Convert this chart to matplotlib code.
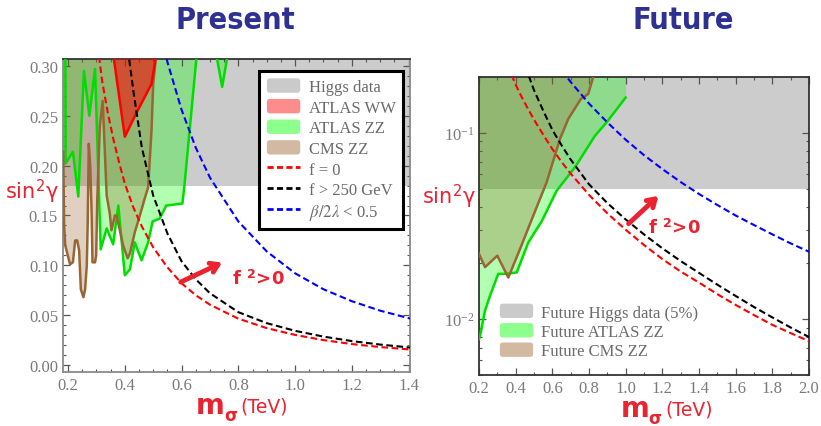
import matplotlib
matplotlib.use('Agg')
from matplotlib import pyplot as plt
from matplotlib.patches import FancyBboxPatch, Patch
from matplotlib.lines import Line2D
from matplotlib.legend_handler import HandlerPatch
from matplotlib.ticker import MultipleLocator, FixedLocator, FixedFormatter, LogLocator, NullFormatter

plt.rcParams['mathtext.fontset'] = 'stix'

# theory curves: sin^2(gamma) against m_sigma (TeV)
m_curve = [0.30, 0.32, 0.34, 0.36, 0.38, 0.40, 0.43, 0.46, 0.50, 0.55, 0.60, 0.65, 0.70,
           0.80, 0.90, 1.00, 1.10, 1.20, 1.30, 1.40, 1.50, 1.60, 1.70, 1.80, 1.90, 2.00]
f_zero = [0.330, 0.285, 0.253, 0.226, 0.203, 0.182, 0.158, 0.139, 0.118, 0.098, 0.082, 0.070, 0.0605,
          0.0465, 0.0370, 0.0302, 0.0250, 0.0210, 0.0180, 0.0157, 0.0136, 0.0119, 0.0105, 0.0093, 0.0084, 0.0076]
f_250 = [0.650, 0.550, 0.470, 0.420, 0.380, 0.340, 0.275, 0.218, 0.170, 0.132, 0.104, 0.086, 0.072,
         0.053, 0.042, 0.0343, 0.0285, 0.0240, 0.0205, 0.0177, 0.0153, 0.0133, 0.0116, 0.0102, 0.0090, 0.0080]
m_beta = [0.50, 0.55, 0.60, 0.65, 0.70, 0.80, 0.90, 1.00, 1.10, 1.20, 1.30, 1.40, 1.50, 1.60, 1.70, 1.80, 1.90, 2.00]
beta_half = [0.368, 0.304, 0.256, 0.218, 0.188, 0.144, 0.114, 0.092, 0.076, 0.064, 0.0545, 0.047,
             0.041, 0.036, 0.032, 0.0285, 0.0255, 0.023]

# present exclusions, lower edge of each region (0.40 = off the top of the plot)
m_atlas_zz = [0.190, 0.191, 0.217, 0.236, 0.256, 0.275, 0.295, 0.315, 0.336, 0.359, 0.377, 0.400, 0.418,
              0.435, 0.459, 0.482, 0.498, 0.523, 0.546, 0.603, 0.610, 0.652, 0.656, 0.720, 0.722, 0.743, 0.763, 0.765]
atlas_zz = [0.40, 0.202, 0.214, 0.169, 0.295, 0.250, 0.297, 0.116, 0.137, 0.121, 0.160, 0.090, 0.096,
            0.123, 0.105, 0.123, 0.144, 0.147, 0.160, 0.162, 0.180, 0.307, 0.40, 0.40, 0.312, 0.279, 0.312, 0.40]
m_cms_zz = [0.183, 0.186, 0.190, 0.207, 0.217, 0.225, 0.232, 0.239, 0.245, 0.254, 0.260, 0.266, 0.269,
            0.273, 0.278, 0.283, 0.286, 0.295, 0.299, 0.303, 0.312, 0.322, 0.336, 0.347, 0.353, 0.365, 0.371,
            0.394, 0.410, 0.418, 0.435, 0.453, 0.470, 0.482, 0.494, 0.500, 0.511, 0.515]
cms_zz = [0.214, 0.140, 0.120, 0.101, 0.103, 0.125, 0.125, 0.115, 0.076, 0.068, 0.076, 0.100, 0.140,
          0.222, 0.200, 0.152, 0.103, 0.103, 0.110, 0.167, 0.240, 0.265, 0.170, 0.152, 0.135, 0.150, 0.150,
          0.120, 0.107, 0.112, 0.133, 0.150, 0.167, 0.178, 0.235, 0.282, 0.312, 0.40]
m_atlas_ww = [0.357, 0.359, 0.400, 0.441, 0.494, 0.511, 0.513]
atlas_ww = [0.40, 0.312, 0.229, 0.253, 0.282, 0.312, 0.40]
higgs_now = 0.18

# future projections
m_atlas_zz_fut = [0.200, 0.206, 0.233, 0.260, 0.305, 0.351, 0.406, 0.469, 0.542, 0.624, 0.724, 0.833, 0.896, 1.000]
atlas_zz_fut = [0.0078, 0.0081, 0.0111, 0.0133, 0.0175, 0.0175, 0.0178, 0.0258, 0.0335, 0.049, 0.0655,
                0.0967, 0.114, 0.155]
m_cms_zz_fut = [0.200, 0.233, 0.300, 0.360, 0.424, 0.496, 0.569, 0.642, 0.687, 0.755, 0.796, 0.823, 0.830]
cms_zz_fut = [0.0224, 0.0190, 0.0219, 0.0167, 0.0238, 0.0359, 0.0543, 0.093, 0.119, 0.152, 0.162, 0.200, 0.250]
higgs_fut = 0.05

# styles
gray_band = '#cccccc'
zz_green = '#00ff00'
zz_line = '#00dd00'
cms_brown = '#996633'
ww_red = '#ff0000'
label_red = '#ea2330'
title_blue = '#2e3192'
tick_gray = '#7a7a7a'
legend_text = '#6a6a6a'
dash = (0, (3.2, 1.7))
serif = ['Liberation Serif', 'DejaVu Serif']


def rounded_swatch(legend, orig_handle, xdescent, ydescent, width, height, fontsize):
    return FancyBboxPatch((-xdescent, -ydescent), width, height,
                          boxstyle='round,pad=0,rounding_size=%g' % (0.22 * height))


def style_axes(ax, spine_color):
    for s in ax.spines.values():
        s.set_color(spine_color)
        s.set_linewidth(1.3)
    ax.tick_params(which='both', direction='in', top=True, right=True, colors='#555555',
                   labelcolor=tick_gray, labelsize=12)
    ax.tick_params(which='major', length=5, width=0.9)
    ax.tick_params(which='minor', length=2.5, width=0.8)
    for lbl in ax.get_xticklabels() + ax.get_yticklabels():
        lbl.set_fontfamily(serif)


def axis_label(fig, x, y):
    # bold m, subscript sigma, then the unit
    fig.text(x, y, 'm', fontsize=20, fontweight='bold', color=label_red, ha='left', va='baseline')
    fig.text(x + 0.034, y - 0.016, 'σ', fontsize=12, fontweight='bold', color=label_red, ha='left', va='baseline')
    fig.text(x + 0.054, y + 0.002, '(TeV)', fontsize=13.5, color=label_red, ha='left', va='baseline')


fig = plt.figure(figsize=(8.21, 4.27), dpi=100)
ax1 = fig.add_axes([0.0767, 0.1265, 0.4227, 0.733])
ax2 = fig.add_axes([0.5834, 0.1194, 0.402, 0.698])

# ---- present ----
ax1.axhspan(higgs_now, 1.0, color=gray_band, lw=0, zorder=0)
ax1.fill_between(m_atlas_zz, atlas_zz, 0.5, color=zz_green, alpha=0.3, lw=0, zorder=1)
ax1.fill_between(m_cms_zz, cms_zz, 0.5, color=cms_brown, alpha=0.3, lw=0, zorder=2)
ax1.fill_between(m_atlas_ww, atlas_ww, 0.5, color=ww_red, alpha=0.55, lw=0, zorder=3)
ax1.plot(m_atlas_zz, atlas_zz, color=zz_line, lw=1.8, zorder=4)
ax1.plot(m_cms_zz, cms_zz, color=cms_brown, lw=1.8, zorder=4)
ax1.plot(m_atlas_ww, atlas_ww, color=ww_red, lw=1.8, zorder=4)
ax1.plot(m_curve, f_zero, color='red', lw=1.5, ls=dash, zorder=5)
ax1.plot(m_curve, f_250, color='black', lw=1.5, ls=dash, zorder=5)
ax1.plot(m_beta, beta_half, color='blue', lw=1.5, ls=dash, zorder=5)

ax1.set_xlim(0.182, 1.405)
ax1.set_ylim(-0.007, 0.307)
ax1.xaxis.set_major_locator(MultipleLocator(0.2))
ax1.xaxis.set_minor_locator(MultipleLocator(0.05))
ax1.yaxis.set_major_locator(MultipleLocator(0.05))
ax1.yaxis.set_minor_locator(MultipleLocator(0.01))
ax1.xaxis.set_major_formatter(matplotlib.ticker.FormatStrFormatter('%.1f'))
ax1.yaxis.set_major_formatter(matplotlib.ticker.FormatStrFormatter('%.2f'))
style_axes(ax1, '#8a8a8a')
ax1.spines['top'].set_color('#333333')

ax1.annotate('', xy=(0.752, 0.104), xytext=(0.588, 0.082),
             arrowprops=dict(arrowstyle='->,head_length=0.55,head_width=0.35', lw=3.5, color=label_red),
             zorder=6)
ax1.text(0.776, 0.087, 'f $^{\\mathregular{2}}$>0', fontsize=13, fontweight='bold', color=label_red,
         ha='left', va='center', zorder=6)

handles1 = [Patch(facecolor='#cacaca'), Patch(facecolor='#ff8c8c'), Patch(facecolor='#8cff8c'),
            Patch(facecolor='#d2baa2'),
            Line2D([], [], color='red', lw=2, ls=(0, (2.2, 1.2))),
            Line2D([], [], color='black', lw=2, ls=(0, (2.2, 1.2))),
            Line2D([], [], color='blue', lw=2, ls=(0, (2.2, 1.2)))]
labels1 = ['Higgs data', 'ATLAS WW', 'ATLAS ZZ', 'CMS ZZ', 'f = 0', 'f > 250 GeV', r'$\beta/2\lambda$ < 0.5']
leg1 = ax1.legend(handles1, labels1, loc='upper right', bbox_to_anchor=(0.98, 0.962), borderaxespad=0,
                  prop={'family': serif, 'size': 12}, labelcolor=legend_text, handlelength=2.0,
                  handleheight=0.95, labelspacing=0.22, handletextpad=0.5, borderpad=0.45,
                  fancybox=False, framealpha=1, edgecolor='black',
                  handler_map={Patch: HandlerPatch(patch_func=rounded_swatch)})
leg1.get_frame().set_linewidth(2.2)
leg1.set_zorder(7)

# ---- future ----
ax2.axhspan(higgs_fut, 1.0, color=gray_band, lw=0, zorder=0)
ax2.fill_between(m_atlas_zz_fut, atlas_zz_fut, 1.0, color=zz_green, alpha=0.3, lw=0, zorder=1)
ax2.fill_between(m_cms_zz_fut, cms_zz_fut, 1.0, color=cms_brown, alpha=0.3, lw=0, zorder=2)
ax2.plot(m_atlas_zz_fut, atlas_zz_fut, color=zz_line, lw=1.8, zorder=4)
ax2.plot(m_cms_zz_fut, cms_zz_fut, color=cms_brown, lw=1.8, zorder=4)
ax2.plot(m_curve, f_zero, color='red', lw=1.5, ls=dash, zorder=5)
ax2.plot(m_curve, f_250, color='black', lw=1.5, ls=dash, zorder=5)
ax2.plot(m_beta, beta_half, color='blue', lw=1.5, ls=dash, zorder=5)

ax2.set_yscale('log')
ax2.set_xlim(0.2, 2.0)
ax2.set_ylim(0.005, 0.2)
ax2.xaxis.set_major_locator(MultipleLocator(0.2))
ax2.xaxis.set_minor_locator(MultipleLocator(0.1))
ax2.xaxis.set_major_formatter(matplotlib.ticker.FormatStrFormatter('%.1f'))
ax2.yaxis.set_major_locator(FixedLocator([0.01, 0.1]))
ax2.yaxis.set_major_formatter(FixedFormatter([r'$\mathregular{10^{-2}}$', r'$\mathregular{10^{-1}}$']))
ax2.yaxis.set_minor_locator(LogLocator(base=10, subs=range(2, 10)))
ax2.yaxis.set_minor_formatter(NullFormatter())
style_axes(ax2, '#333333')

ax2.annotate('', xy=(1.19, 0.047), xytext=(1.005, 0.0318),
             arrowprops=dict(arrowstyle='->,head_length=0.55,head_width=0.35', lw=3.5, color=label_red),
             zorder=6)
ax2.text(1.12, 0.031, 'f $^{\\mathregular{2}}$>0', fontsize=13, fontweight='bold', color=label_red,
         ha='left', va='center', zorder=6)

handles2 = [Patch(facecolor='#cacaca'), Patch(facecolor='#8cff8c'), Patch(facecolor='#d2baa2')]
labels2 = ['Future Higgs data (5%)', 'Future ATLAS ZZ', 'Future CMS ZZ']
leg2 = ax2.legend(handles2, labels2, loc='lower left', bbox_to_anchor=(0.043, 0.03), borderaxespad=0,
                  prop={'family': serif, 'size': 12}, labelcolor=legend_text, handlelength=2.0,
                  handleheight=0.95, labelspacing=0.15, handletextpad=0.5, frameon=False,
                  handler_map={Patch: HandlerPatch(patch_func=rounded_swatch)})
leg2.set_zorder(7)

# titles and axis labels
title_kw = dict(fontsize=22, fontweight='bold', fontstretch='condensed', family='DejaVu Sans',
                color=title_blue, ha='center', va='center')
fig.text(0.287, 0.953, 'Present', **title_kw)
fig.text(0.832, 0.953, 'Future', **title_kw)
fig.text(0.039, 0.553, 'sin$^{\\mathregular{2}}$γ', fontsize=15, color=label_red, ha='center', va='center')
fig.text(0.547, 0.540, 'sin$^{\\mathregular{2}}$γ', fontsize=15, color=label_red, ha='center', va='center')
axis_label(fig, 0.239, 0.031)
axis_label(fig, 0.756, 0.024)

fig.savefig('out.png', dpi=100)
